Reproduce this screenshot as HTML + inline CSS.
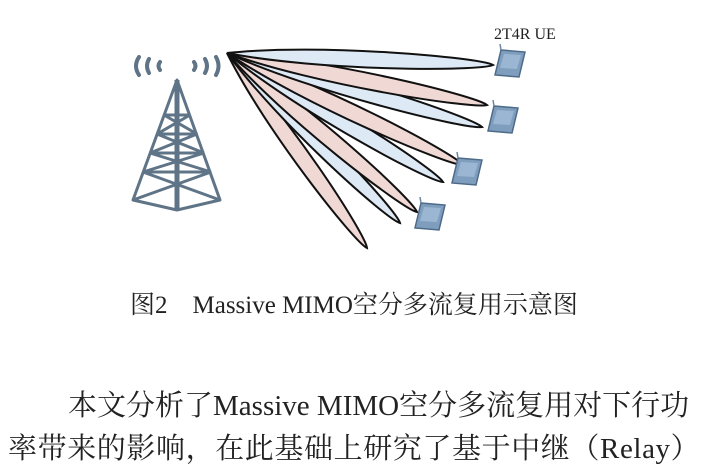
<!DOCTYPE html>
<html><head><meta charset="utf-8"><style>
html,body{margin:0;padding:0;background:#fff;}
body{width:712px;height:470px;position:relative;overflow:hidden;}
.t{position:absolute;white-space:nowrap;color:#222;font-family:"Liberation Serif","Noto Serif CJK SC","Noto Sans CJK SC",serif;}
</style></head><body>
<svg id="s" width="712" height="470" style="position:absolute;left:0;top:0">
<g stroke="#5f7487" stroke-width="4" fill="none" stroke-linecap="round">
<path d="M139 57 Q133 66 139 75"/><path d="M149 59 Q145 66 149 73"/><path d="M160 62 Q157 66 160 70"/>
<path d="M194 62 Q197 66 194 70"/><path d="M205 59 Q209 66 205 73"/><path d="M216 57 Q221 66 216 75"/>
</g>
<g stroke="#5f7487" stroke-width="3" fill="none" stroke-linejoin="round">
<path d="M177 80 L133 200 L177 210 L220 200 Z"/>
<line x1="177" y1="80" x2="177" y2="210" stroke-width="5"/>
<path d="M164 115 L190 115 M157 134 L197 134 M150 153 L204 153 M143 172 L211 172"/>
<path d="M164 115 L197 134 M190 115 L157 134 M157 134 L204 153 M197 134 L150 153 M150 153 L211 172 M204 153 L143 172 M143 172 L220 200 M211 172 L133 200"/>
</g>
<g id="beams"></g>
<g id="dev"></g>
</svg>
<div class="t" style="left:494px;top:26px;font-size:16px;">2T4R UE</div>
<div class="t" style="left:130px;top:285px;font-size:25px;">图2&nbsp;&nbsp;&nbsp; Massive MIMO空分多流复用示意图</div>
<div class="t" style="left:68px;top:383px;font-size:29px;">本文分析了Massive MIMO空分多流复用对下行功</div>
<div class="t" style="left:8px;top:426px;font-size:29px;letter-spacing:0.6px;">率带来的影响，在此基础上研究了基于中继（Relay）</div>
<script>
var O=[227,53];
var tips=[[367,248,'p'],[400,223,'b'],[417,212,'p'],[443,182,'b'],[463,165,'p'],[482,127,'b'],[487,105,'p'],[493,65,'b']];
var g=document.getElementById('beams'),h='';
tips.forEach(function(t){
var dx=t[0]-O[0],dy=t[1]-O[1],L=Math.hypot(dx,dy),nx=-dy/L,ny=dx/L,w=14;
function p(a,k){return (O[0]+a*dx+k*nx).toFixed(1)+' '+(O[1]+a*dy+k*ny).toFixed(1);}
var d='M'+p(0,0)+' C'+p(.35,w)+' '+p(.95,.5*w)+' '+p(1,0)+' C'+p(.95,-.5*w)+' '+p(.35,-w)+' '+p(0,0)+'Z';
h+='<path d="'+d+'" fill="'+(t[2]=='p'?'#f0d9d5':'#dde9f4')+'" stroke="#111" stroke-width="2"/>';
});
g.innerHTML=h;
var dv=[[495,50],[488,106],[452,158],[415,203]],s='';
dv.forEach(function(q){var x=q[0],y=q[1];
s+='<path d="M'+(x+6)+' '+y+' L'+(x+30)+' '+(y+2)+' L'+(x+24)+' '+(y+27)+' L'+x+' '+(y+25)+'Z" fill="#7f9dbd" stroke="#4d6a88" stroke-width="1.5"/>';
s+='<path d="M'+(x+9)+' '+(y+4)+' L'+(x+26)+' '+(y+5)+' L'+(x+22)+' '+(y+19)+' L'+(x+5)+' '+(y+18)+'Z" fill="#9bb6d2"/>';
s+='<line x1="'+(x+6)+'" y1="'+y+'" x2="'+(x+5)+'" y2="'+(y-6)+'" stroke="#6f88a3" stroke-width="1.5"/>';});
document.getElementById('dev').innerHTML=s;
</script>
</body></html>
